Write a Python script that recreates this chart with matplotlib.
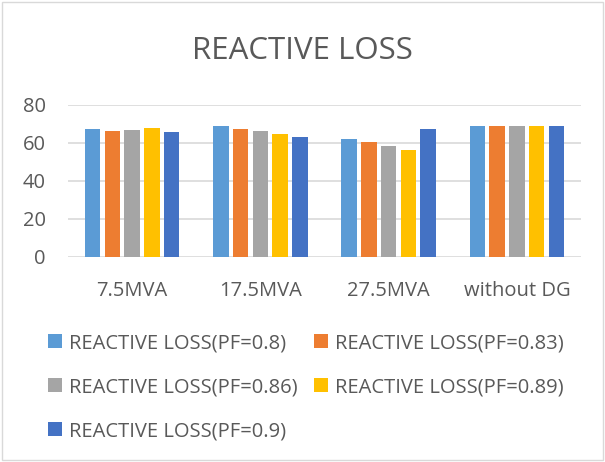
import numpy as np
import matplotlib.pyplot as plt
from matplotlib.patches import Rectangle

plt.rcParams['font.family'] = ['Open Sans', 'DejaVu Sans']

categories = ["7.5MVA", "17.5MVA", "27.5MVA", "without DG"]
series_names = ["REACTIVE LOSS(PF=0.8)", "REACTIVE LOSS(PF=0.83)",
                "REACTIVE LOSS(PF=0.86)", "REACTIVE LOSS(PF=0.89)",
                "REACTIVE LOSS(PF=0.9)"]
pf_08 = [67.3, 69.2, 62.2, 68.7]
pf_083 = [66.1, 67.3, 60.3, 68.7]
pf_086 = [66.8, 66.1, 58.2, 68.7]
pf_089 = [67.8, 65.0, 56.2, 68.7]
pf_09 = [65.7, 63.1, 67.3, 68.7]
colors = ["#5B9BD5", "#ED7D31", "#A5A5A5", "#FFC000", "#4472C4"]

series = [pf_08, pf_083, pf_086, pf_089, pf_09]

fig = plt.figure(figsize=(6.05, 4.62), dpi=100)
ax = fig.add_axes([68/605, 1 - 257/462, (581-68)/605, (257-105)/462])

x = np.arange(len(categories))
pitch = 0.154
width = 0.12
handles = []
for i, (vals, c) in enumerate(zip(series, colors)):
    b = ax.bar(x + (i - 2) * pitch, vals, width, color=c, label=series_names[i], zorder=3)
    handles.append(b)

ax.set_xlim(-0.5, len(categories) - 0.5)
ax.set_ylim(0, 80)
ax.set_yticks([0, 20, 40, 60, 80])
ax.set_xticks(x)
ax.set_xticklabels(categories)
ax.grid(axis='y', color='#D9D9D9', linewidth=1.2, zorder=0)
for s in ax.spines.values():
    s.set_visible(False)
ax.tick_params(length=0, labelsize=14.5, colors='#595959')
ax.tick_params(axis='x', pad=17)
ax.tick_params(axis='y', pad=16)

fig.text(0.5, 1 - 51/462, "REACTIVE LOSS", ha='center', va='center', fontsize=22.5, color='#595959')

order = [0, 2, 4, 1, 3]
fig.legend([handles[i] for i in order], [series_names[i] for i in order],
           loc='upper left', bbox_to_anchor=(38/605, 1 - 323/462), ncol=2,
           frameon=False, fontsize=14.5, labelcolor='#595959',
           handlelength=0.7, handleheight=0.7, handletextpad=0.35,
           columnspacing=0.8, labelspacing=1.2, borderpad=0)

fig.patches.append(Rectangle((2/605, 2/462), 1 - 4/605, 1 - 4/462, transform=fig.transFigure,
                             fill=False, edgecolor='#D9D9D9', linewidth=1))

fig.savefig("out.png", dpi=100)
